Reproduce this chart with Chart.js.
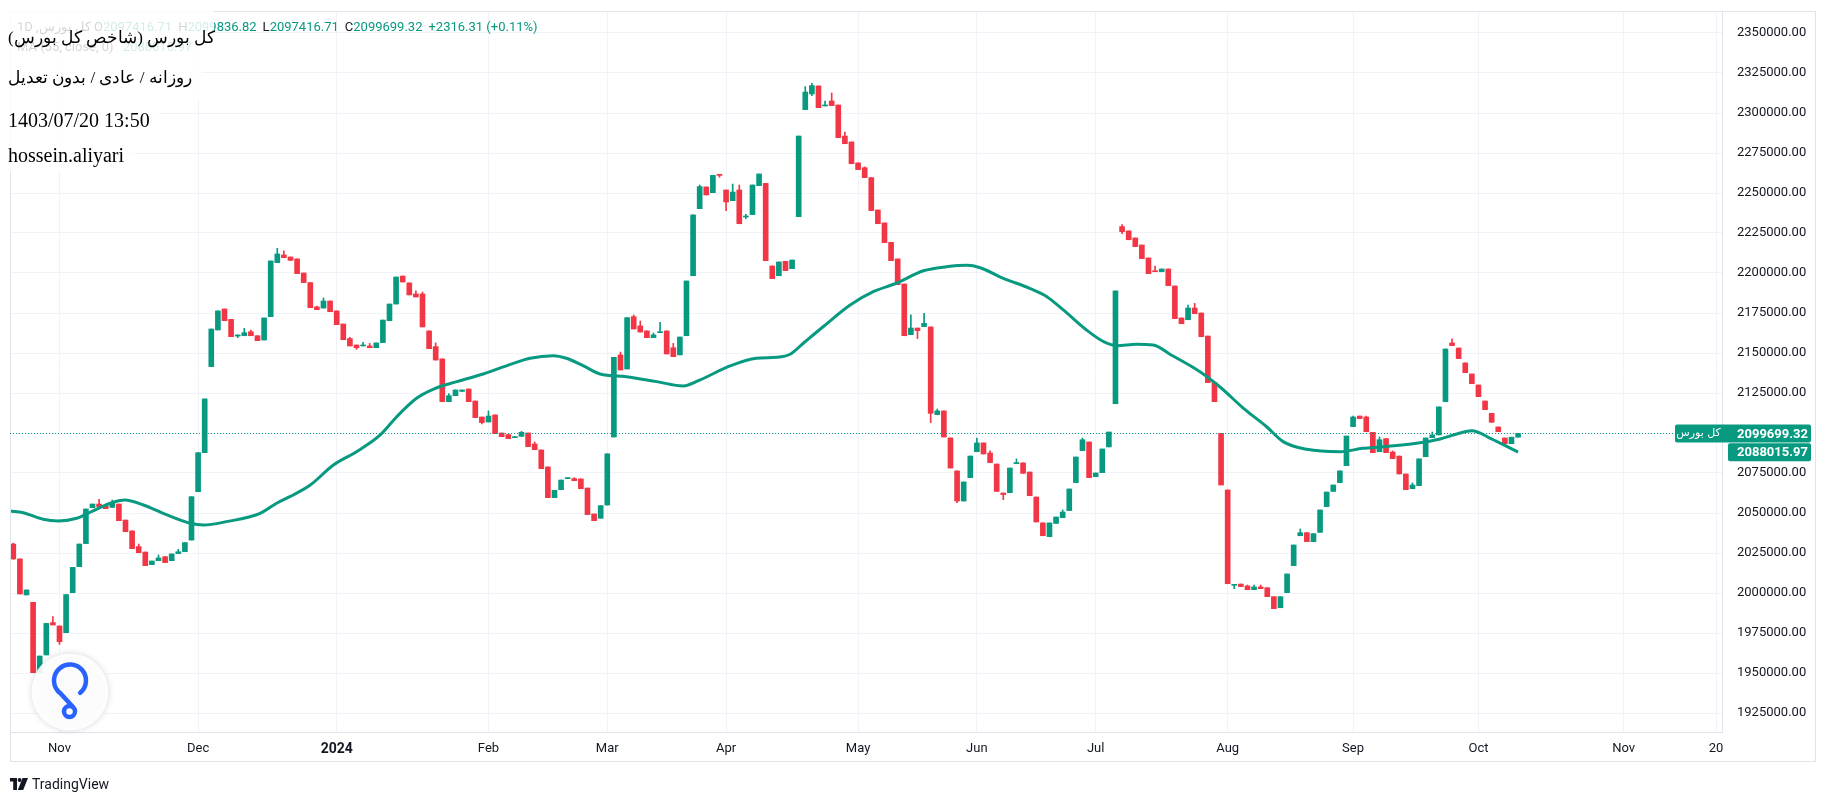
<!DOCTYPE html>
<html>
<head>
<meta charset="utf-8">
<script src="https://cdn.jsdelivr.net/npm/chart.js@4.4.1/dist/chart.umd.min.js"></script>
<style>
  html, body { margin: 0; padding: 0; background: #fff; }
  #wrap { position: relative; width: 1827px; height: 802px; overflow: hidden; }
  #chart { position: absolute; left: 0; top: 0; }
  .legend { position: absolute; font-family: Roboto, sans-serif; font-size: 13px; line-height: 16px; color: #131722; white-space: nowrap; }
  .legend .v { color: #089981; }
  .legend .it { margin-right: 6px; }
  .box { position: absolute; left: 0; background: rgba(255,255,255,0.82); box-sizing: border-box; padding-left: 8px; }
  .info { font-family: "Liberation Serif", "Times New Roman", "DejaVu Serif", serif; font-size: 20px; line-height: 24px; color: #000; white-space: nowrap; }
  .info.fa { font-size: 17px; }
  #footer { position: absolute; left: 10px; top: 776px; display: flex; align-items: center; font-family: Roboto, sans-serif; font-size: 14px; color: #131722; }
  #footer svg { margin-right: 4px; }
</style>
</head>
<body>
<div id="wrap">
  <canvas id="chart" width="1827" height="802"></canvas>

  <div class="legend" style="left:17px; top:19px;"><bdi id="symTitle"></bdi></div>
  <div class="legend" id="ohlc" style="left:94px; top:19px;"></div>
  <div class="legend" id="maRow" style="left:17px; top:39px;"></div>

  <div class="box" style="top:0; height:58px; width:214px; padding-top:26px;"><div class="info fa" dir="rtl" style="display:inline-block;" id="line1"></div></div>
  <div class="box" style="top:58px; height:41px; width:202px; padding-top:8px;"><div class="info fa" dir="rtl" style="display:inline-block;" id="line2"></div></div>
  <div class="box" style="top:99px; height:39px; width:160px; padding-top:9px;"><div class="info" id="line3"></div></div>
  <div class="box" style="top:138px; height:34px; width:134px; padding-top:5px;"><div class="info" id="line4"></div></div>

  <div id="footer">
    <svg width="18" height="12" viewBox="0 0 18 12"><path d="M0 0h7v12H3.2V3.6H0z" fill="#131722"/><circle cx="9.6" cy="2" r="2" fill="#131722"/><path d="M12.6 0h5.4l-4.8 12H7.8z" fill="#131722"/></svg>
    <span>TradingView</span>
  </div>
</div>

<script>
// عنوان و متن‌ها
const symbolName = 'کل بورس';
const titleLine = 'کل بورس (شاخص کل بورس)';
const modeLine = 'روزانه / عادی / بدون تعدیل';
const dateLine = '1403/07/20 13:50';
const authorLine = 'hossein.aliyari';
const maName = 'MA (55, close, 0)';

// daily candles, index 0 = first visible bar
const opens = [
  2030600,2021300,1998800,1994200,1950200,1961300,1981500,1979400,1975200,2000200,
  2016500,2030900,2053300,2055600,2054400,2053500,2055600,2045600,2038800,2029000,
  2025600,2017700,2020200,2022700,2020200,2024600,2025800,2033100,2063300,2087700,
  2141500,2164400,2177500,2171000,2160600,2160800,2163300,2160800,2158100,2172700,
  2206500,2211300,2210000,2208800,2200000,2194000,2178800,2178100,2182500,2176300,
  2168100,2159000,2155000,2154400,2154400,2153300,2156500,2170200,2180600,2198100,
  2193800,2186900,2186900,2163800,2154000,2146300,2119600,2123300,2126000,2127500,
  2120000,2110000,2106900,2111300,2100000,2099000,2097100,2097900,2100000,2093100,
  2089400,2078800,2059600,2064600,2071500,2071500,2071300,2065600,2049400,2046700,
  2055000,2097500,2148800,2140000,2172700,2166900,2163800,2159600,2162700,2163800,
  2153300,2148800,2160800,2198300,2240200,2253800,2250200,2261700,2251900,2245200,
  2251900,2235000,2236500,2254600,2256000,2204400,2198300,2207300,2202700,2235200,
  2302100,2311900,2316900,2304400,2307500,2305000,2285600,2281900,2268800,2265800,
  2259600,2239400,2231300,2219200,2208800,2193100,2161500,2165600,2166500,2166300,
  2111500,2113800,2096900,2076300,2057500,2072100,2088300,2093800,2087500,2080600,
  2062500,2062700,2080800,2081300,2075600,2060000,2043800,2035200,2043500,2047100,
  2051500,2069000,2089000,2094400,2072700,2075200,2091300,2118300,2229000,2226300,
  2221900,2217500,2209400,2201300,2200800,2202500,2191900,2171900,2170800,2178100,
  2175000,2160600,2131500,2099800,2064400,2004800,2005600,2004400,2002100,2003800,
  2003300,1997700,1990800,2000200,2017100,2035800,2037700,2032100,2037900,2054000,
  2063500,2069000,2079600,2104000,2110600,2110000,2100400,2088300,2096500,2088100,
  2085600,2074400,2065200,2067100,2085200,2097100,2098800,2119600,2156300,2153100,
  2143800,2136900,2130000,2120000,2112300,2103800,2096900,2093300,2097416.71
];
const highs = [
  2031200,2021300,2001900,1994200,1960600,1981000,1985200,1979400,1999000,2016000,
  2030600,2052500,2055600,2058500,2054400,2058100,2055600,2045600,2038800,2030600,
  2025600,2020000,2023800,2022700,2024400,2027300,2031500,2060200,2087700,2121300,
  2165000,2176300,2177500,2171000,2161300,2165400,2164400,2160800,2171900,2207500,
  2215400,2213800,2210000,2208800,2200000,2194000,2179400,2184400,2182500,2176300,
  2168100,2159800,2155000,2156700,2156000,2156300,2170600,2180600,2197500,2198100,
  2193800,2188800,2188100,2163800,2156300,2146300,2124600,2126900,2126900,2127500,
  2120000,2110000,2113800,2111300,2100000,2099000,2097700,2101000,2100000,2094400,
  2089400,2078800,2064200,2070600,2071900,2072100,2071300,2065600,2049400,2054600,
  2087000,2147300,2150600,2172100,2173800,2170000,2163800,2162500,2169200,2163800,
  2156000,2160000,2195000,2236300,2255000,2253800,2261000,2261700,2251900,2255600,
  2255000,2236700,2255000,2261900,2256000,2204400,2206900,2207300,2208100,2285600,
  2316500,2318500,2316900,2307500,2312500,2305000,2288100,2281900,2268800,2266300,
  2259600,2239400,2231300,2219200,2208800,2193100,2173800,2165600,2174800,2166300,
  2115000,2113800,2096900,2076300,2069400,2085600,2096900,2093800,2088800,2080600,
  2062500,2078100,2083800,2081300,2075600,2060000,2043800,2043800,2047500,2051900,
  2065000,2085000,2096900,2094400,2075000,2090000,2100600,2188800,2230200,2226300,
  2221900,2217500,2209400,2204400,2202500,2202500,2191900,2171900,2180000,2181000,
  2175000,2160600,2131500,2099800,2064400,2005200,2005600,2005000,2005000,2005000,
  2003300,1997700,1997700,2011900,2030000,2040000,2037700,2037100,2051900,2063100,
  2067500,2076300,2098100,2110600,2110600,2110600,2100400,2097500,2096500,2088800,
  2085600,2074400,2068800,2083800,2096900,2100600,2116300,2152500,2158800,2153100,
  2143800,2136900,2130000,2120000,2112300,2103800,2096900,2097383.01,2099836.82
];
const lows = [
  2021000,1999400,1998800,1950200,1950200,1961300,1980000,1967900,1975200,2000200,
  2016500,2030900,2053300,2054000,2052700,2053500,2045200,2038300,2027700,2025200,
  2017100,2017700,2020200,2019000,2020200,2024600,2025800,2033100,2063300,2087700,
  2141500,2164400,2170200,2160200,2159600,2160800,2160800,2157700,2158100,2172700,
  2206500,2209600,2207900,2199600,2194000,2178300,2177100,2178100,2175800,2167700,
  2158300,2154400,2152300,2154400,2153300,2153300,2156500,2170200,2180600,2194400,
  2186300,2185000,2166300,2152700,2145600,2119600,2119600,2123300,2126000,2119600,
  2109600,2105600,2106900,2099600,2097700,2096500,2097100,2097900,2091500,2089600,
  2077700,2059600,2059600,2064600,2071500,2070200,2065200,2049000,2045200,2046700,
  2055000,2097500,2139400,2140000,2165000,2163100,2159600,2159600,2162700,2149400,
  2147700,2148800,2160800,2198300,2240200,2248800,2250200,2259800,2239000,2245200,
  2230800,2234000,2236500,2254600,2207700,2196500,2198300,2201500,2202700,2235200,
  2302100,2310800,2303300,2304400,2304600,2284600,2280800,2268300,2264600,2259600,
  2239000,2230800,2219000,2207700,2192700,2160800,2161500,2159000,2166500,2106500,
  2111500,2097500,2078100,2056500,2057500,2072100,2088300,2086900,2081500,2063500,
  2058300,2062700,2080800,2074800,2060800,2044400,2035800,2035200,2043500,2047100,
  2051500,2069000,2089000,2072100,2072700,2075200,2091300,2118300,2224600,2220800,
  2216500,2209000,2199600,2200800,2200800,2192100,2171500,2168300,2170800,2174600,
  2160200,2131500,2119600,2067500,2005800,2002700,2004000,2002100,2002100,2002700,
  1997700,1990200,1990800,2000200,2017100,2035800,2032100,2032100,2037900,2054000,
  2063500,2069000,2079600,2104000,2109000,2100800,2087700,2088300,2087700,2084000,
  2074400,2064600,2065200,2067100,2085200,2097100,2098800,2119600,2154600,2146500,
  2137700,2130800,2122700,2114600,2106700,2100800,2093300,2093300,2097416.71
];
const closes = [
  2021300,1999400,2001900,1950200,1960600,1981000,1980000,1969600,1999000,2016000,
  2030600,2052500,2055600,2054000,2052700,2056000,2045200,2038300,2027700,2025200,
  2017100,2020000,2021900,2019000,2024400,2025800,2031500,2060200,2087700,2121300,
  2165000,2176300,2170200,2160200,2161300,2162700,2160800,2157700,2171900,2207500,
  2211900,2209600,2207900,2199600,2194000,2178300,2177100,2182500,2175800,2167700,
  2158300,2154400,2153300,2154800,2153300,2156300,2170600,2180600,2197500,2194400,
  2186300,2185000,2166300,2152700,2145600,2119600,2123300,2126900,2126900,2119600,
  2109600,2106500,2110600,2099600,2097700,2096500,2097700,2100400,2091500,2089600,
  2077700,2059600,2064200,2070600,2071900,2070200,2065200,2049000,2045200,2054600,
  2087000,2147300,2139400,2172100,2165000,2163100,2159600,2161300,2163100,2149400,
  2147700,2160000,2195000,2236300,2254000,2248800,2261000,2261000,2244400,2250600,
  2230800,2235600,2255000,2261900,2207700,2196500,2206900,2201500,2208100,2285600,
  2313100,2317100,2303300,2304800,2304600,2284600,2280800,2268300,2264600,2259600,
  2239000,2230800,2219000,2207700,2192700,2160800,2165600,2164000,2168500,2112300,
  2113800,2097500,2078100,2057500,2069400,2085600,2093800,2086900,2081500,2063500,
  2061500,2078100,2081500,2074800,2060800,2044400,2035800,2043800,2047500,2050600,
  2065000,2085000,2095800,2072100,2075000,2090000,2100600,2188800,2225800,2220800,
  2216500,2209000,2199600,2200800,2202500,2192100,2171500,2168300,2178100,2174600,
  2160200,2131500,2119600,2067500,2005800,2005200,2004000,2002100,2003800,2002700,
  1997700,1990200,1997700,2011900,2030000,2037700,2032100,2037100,2051900,2063100,
  2067500,2076300,2098100,2110000,2109000,2100800,2087700,2095800,2087700,2084000,
  2074400,2064600,2067500,2083800,2096900,2098800,2116300,2152500,2154600,2146500,
  2137700,2130800,2122700,2114600,2106700,2100800,2093300,2097383.01,2099699.32
];

// moving average at these bar positions
const maIdx = [-0.5, 1.5, 4.5, 6.8, 9.6, 12.1, 14.7, 16.9, 19.7, 22.7, 26.8, 28.8, 32.3, 37.4, 39.9,
  41.9, 45, 48.5, 52, 55.6, 58.1, 61.1, 63.6, 67.2, 71.2, 74.8, 78.3, 81.8, 83.8, 86.4, 88.9,
  92.9, 97.5, 101.5, 104, 108.6, 112.6, 115.7, 117.7, 119.7, 122.7, 126.8, 130.3, 133.8, 137.9,
  141.4, 144.5, 146.5, 150, 154, 156.6, 159.1, 162.6, 165.2, 167.2, 170.2, 172.7, 175.3, 179.8,
  182.8, 186.4, 189.9, 192.4, 196, 201, 204.5, 207.6, 212.6, 216.2, 218.7, 221, 223.8, 228];
const maVal = [2051250, 2050200, 2046100, 2045000, 2046700, 2051400, 2056100, 2058100, 2055000, 2049800,
  2043600, 2042500, 2044600, 2049800, 2056100, 2060200, 2067500, 2080000, 2088300, 2098800, 2110200,
  2121700, 2127300, 2132100, 2136900, 2142100, 2146700, 2148300, 2146700, 2141900, 2136900, 2135200,
  2132100, 2129400, 2133100, 2141900, 2146700, 2147300, 2149200, 2156100, 2166400, 2180000, 2188300,
  2193600, 2201400, 2203900, 2204800, 2203300, 2196700, 2190400, 2185200, 2176900, 2164400, 2157100,
  2154600, 2155400, 2155000, 2149100, 2138300, 2128900, 2115400, 2103900, 2094600, 2089800, 2088300,
  2090400, 2091400, 2093600, 2096300, 2099400, 2101400, 2096700, 2088015.97];

// axis ticks
const yTicks = [1925000, 1950000, 1975000, 2000000, 2025000, 2050000, 2075000, 2100000, 2125000,
  2150000, 2175000, 2200000, 2225000, 2250000, 2275000, 2300000, 2325000, 2350000];
const monthPos = [7, 28, 49, 72, 90, 108, 128, 146, 164, 184, 203, 222, 244, 258];
const monthText = ['Nov', 'Dec', '2024', 'Feb', 'Mar', 'Apr', 'May', 'Jun', 'Jul', 'Aug', 'Sep', 'Oct', 'Nov', '20'];

const UP = '#089981';
const DOWN = '#F23645';

document.addEventListener('DOMContentLoaded', () => {
    const last = closes.length - 1;
    const lastClose = closes[last];
    const lastMa = maVal[maVal.length - 1];
    const chg = lastClose - closes[last - 1];

    // متن‌های بالای نمودار
    document.getElementById('symTitle').textContent = symbolName + ', 1D';
    document.getElementById('ohlc').innerHTML =
        '<span class="it">O<span class="v">' + opens[last].toFixed(2) + '</span></span>' +
        '<span class="it">H<span class="v">' + highs[last].toFixed(2) + '</span></span>' +
        '<span class="it">L<span class="v">' + lows[last].toFixed(2) + '</span></span>' +
        '<span class="it">C<span class="v">' + lastClose.toFixed(2) + '</span></span>' +
        '<span class="v">+' + chg.toFixed(2) + ' (+' + (chg / closes[last - 1] * 100).toFixed(2) + '%)</span>';
    document.getElementById('maRow').innerHTML = maName + ' <span class="v" style="margin-left:6px">' + lastMa.toFixed(2) + '</span>';
    document.getElementById('line1').textContent = titleLine;
    document.getElementById('line2').textContent = modeLine;
    document.getElementById('line3').textContent = dateLine;
    document.getElementById('line4').textContent = authorLine;

    const idx = opens.map((_, i) => i);
    const colors = idx.map(i => closes[i] >= opens[i] ? UP : DOWN);

    const overlay = {
        id: 'overlay',
        beforeDraw(chart) {
            const c = chart.ctx;
            c.save();
            c.fillStyle = '#ffffff';
            c.fillRect(0, 0, chart.width, chart.height);
            c.restore();
        },
        afterDraw(chart) {
            const c = chart.ctx, a = chart.chartArea, ys = chart.scales.y, xs = chart.scales.x;
            c.save();
            // frame
            c.strokeStyle = '#e0e3eb';
            c.lineWidth = 1;
            c.strokeRect(a.left + 0.5, a.top + 0.5, ys.right - a.left - 1, xs.bottom - a.top - 1);

            const yc = ys.getPixelForValue(lastClose);
            const ym = ys.getPixelForValue(lastMa);
            const tagRight = ys.right - 5;
            const tag1Left = a.right - 47;

            // last price dotted line
            c.strokeStyle = UP;
            c.setLineDash([1, 2]);
            c.beginPath();
            c.moveTo(a.left, Math.round(yc) + 0.5);
            c.lineTo(tag1Left, Math.round(yc) + 0.5);
            c.stroke();
            c.setLineDash([]);

            // price tags
            c.fillStyle = UP;
            c.beginPath();
            c.roundRect(tag1Left, yc - 9, tagRight - tag1Left, 18, 2);
            c.fill();
            c.beginPath();
            c.roundRect(ys.left + 6, ym - 9, tagRight - ys.left - 6, 18, 2);
            c.fill();
            c.fillStyle = '#ffffff';
            c.textBaseline = 'middle';
            c.textAlign = 'left';
            c.font = 'bold 13px Roboto';
            c.fillText(lastClose.toFixed(2), ys.left + 15, yc + 1);
            c.fillText(lastMa.toFixed(2), ys.left + 15, ym + 1);
            c.font = '11px "DejaVu Sans", Roboto';
            c.textAlign = 'center';
            c.fillText(symbolName, (tag1Left + ys.left) / 2, yc);

            // badge
            c.shadowColor = 'rgba(0,0,0,0.15)';
            c.shadowBlur = 6;
            c.beginPath();
            c.arc(70, 692, 39, 0, Math.PI * 2);
            c.fillStyle = 'rgba(255,255,255,0.9)';
            c.fill();
            c.shadowBlur = 0;
            c.strokeStyle = '#eceef2';
            c.stroke();
            c.strokeStyle = '#2962ff';
            c.lineWidth = 4.5;
            c.lineCap = 'round';
            c.lineJoin = 'round';
            c.beginPath();
            c.arc(70, 680.5, 16, Math.PI * 0.28, Math.PI * 0.7, true);
            c.lineTo(73, 707);
            c.stroke();
            c.beginPath();
            c.arc(69.5, 711.5, 5.5, 0, Math.PI * 2);
            c.stroke();
            c.restore();
        }
    };

    Chart.defaults.font.family = 'Roboto';

    new Chart(document.getElementById('chart'), {
        type: 'bar',
        data: {
            datasets: [
                {
                    label: 'wick',
                    data: idx.map(i => ({ x: i, y: [lows[i], highs[i]] })),
                    backgroundColor: colors,
                    barThickness: 1,
                    minBarLength: 1,
                    grouped: false,
                    order: 2
                },
                {
                    label: symbolName,
                    data: idx.map(i => ({ x: i, y: [opens[i], closes[i]] })),
                    backgroundColor: colors,
                    barThickness: 5,
                    minBarLength: 1,
                    grouped: false,
                    order: 1
                },
                {
                    type: 'line',
                    label: maName,
                    data: maIdx.map((x, k) => ({ x, y: maVal[k] })),
                    borderColor: UP,
                    borderWidth: 3,
                    pointRadius: 0,
                    cubicInterpolationMode: 'monotone',
                    order: 0
                }
            ]
        },
        options: {
            responsive: false,
            devicePixelRatio: 1,
            animation: false,
            events: [],
            layout: { padding: { left: 10, top: 11, right: 11, bottom: 40 } },
            plugins: { legend: { display: false }, tooltip: { enabled: false } },
            scales: {
                x: {
                    type: 'linear',
                    min: -0.5,
                    max: 258.9,
                    offset: false,
                    afterBuildTicks: s => { s.ticks = monthPos.map(v => ({ value: v })); },
                    afterFit: s => { s.height = 30; s.paddingLeft = 0; s.paddingRight = 0; },
                    ticks: {
                        autoSkip: false,
                        maxRotation: 0,
                        padding: 9,
                        color: '#131722',
                        font: c => (c.tick && c.tick.value === 49) ? { size: 14, weight: 'bold' } : { size: 13 },
                        callback: v => monthText[monthPos.indexOf(v)]
                    },
                    grid: { color: '#f0f3fa', drawTicks: false, offset: false },
                    border: { color: '#e0e3eb' }
                },
                y: {
                    position: 'right',
                    min: 1913125,
                    max: 2363750,
                    afterBuildTicks: s => { s.ticks = yTicks.map(v => ({ value: v })); },
                    afterFit: s => { s.width = 94; s.paddingTop = 0; s.paddingBottom = 0; },
                    ticks: { padding: 15, color: '#131722', font: { size: 13 }, callback: v => v.toFixed(2) },
                    grid: { color: '#f0f3fa', drawTicks: false },
                    border: { color: '#e0e3eb' }
                }
            }
        },
        plugins: [overlay]
    });
});
</script>
</body>
</html>
